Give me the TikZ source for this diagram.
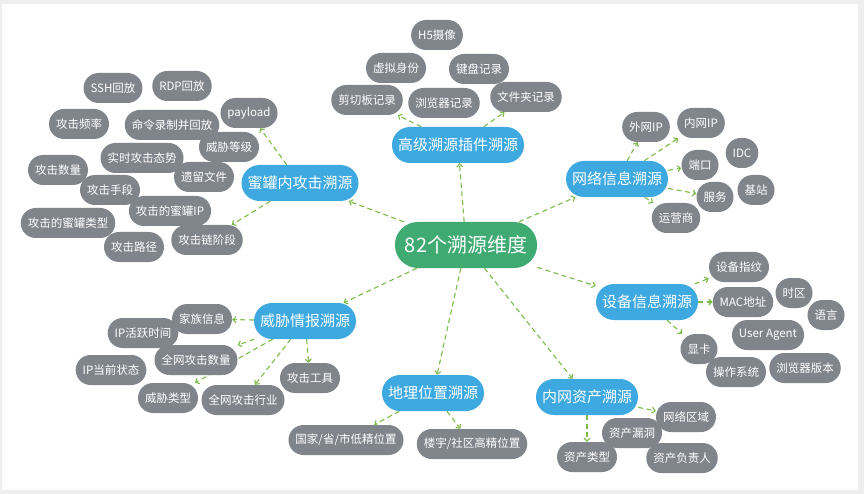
\documentclass[tikz,border=0pt]{standalone}
\usepackage{fontspec}
\newfontfamily\cjk{Noto Sans CJK SC}
\usetikzlibrary{arrows.meta, backgrounds}
\definecolor{leafgray}{HTML}{80858C}
\definecolor{hubblue}{HTML}{3DA9E0}
\definecolor{rootgreen}{HTML}{3FAA72}
\definecolor{linkgreen}{HTML}{7DBB48}
\definecolor{framegray}{HTML}{EEEEEE}

\begin{document}
\begin{tikzpicture}[x=1pt, y=-1pt,
  root/.style={rectangle, rounded corners=23pt, fill=rootgreen, text=white, minimum height=46pt, inner xsep=10pt, font=\cjk\fontsize{20}{24}\selectfont},
  hub/.style={rectangle, rounded corners=18pt, fill=hubblue, text=white, minimum height=36pt, inner xsep=6pt, font=\cjk\fontsize{15}{18}\selectfont},
  leaf/.style={rectangle, rounded corners=15pt, fill=leafgray, text=white, minimum height=30pt, inner xsep=7pt, font=\cjk\fontsize{11.5}{14}\selectfont},
  link/.style={-{Straight Barb[length=3pt,width=6pt]}, dash pattern=on 5pt off 3.5pt, line width=1.1pt, draw=linkgreen}
]
  \useasboundingbox (0,0) rectangle (864,494);

  % centre and branches
  \node[root] (root) at (466,245) {82个溯源维度};
  \node[hub] (honey) at (300,183) {蜜罐内攻击溯源};
  \node[hub] (plugin) at (458,145) {高级溯源插件溯源};
  \node[hub] (net) at (617,179) {网络信息溯源};
  \node[hub] (device) at (647,302) {设备信息溯源};
  \node[hub] (asset) at (587,397) {内网资产溯源};
  \node[hub] (geo) at (433,393) {地理位置溯源};
  \node[hub] (intel) at (305,321) {威胁情报溯源};

  % honeypot
  \node[leaf] (ssh) at (113,88) {SSH回放};
  \node[leaf] (rdp) at (182,86) {RDP回放};
  \node[leaf] (payload) at (249,113) {payload};
  \node[leaf] (freq) at (79,124) {攻击频率};
  \node[leaf] (cmdrec) at (172,125) {命令录制并回放};
  \node[leaf] (threatlv) at (229,147) {威胁等级};
  \node[leaf] (realtime) at (142,158) {实时攻击态势};
  \node[leaf] (atkcount) at (58,170) {攻击数量};
  \node[leaf] (leftfile) at (204,177) {遗留文件};
  \node[leaf] (atkmeans) at (110,190) {攻击手段};
  \node[leaf] (honeyip) at (170,211) {攻击的蜜罐IP};
  \node[leaf] (honeytype) at (68,223) {攻击的蜜罐类型};
  \node[leaf] (killchain) at (207,240) {攻击链阶段};
  \node[leaf] (atkpath) at (134,247) {攻击路径};

  % plugins
  \node[leaf] (h5cam) at (437,35) {H5摄像};
  \node[leaf] (vident) at (396,68) {虚拟身份};
  \node[leaf] (keyrec) at (479,69) {键盘记录};
  \node[leaf] (cliprec) at (367,100) {剪切板记录};
  \node[leaf] (browrec) at (444,103) {浏览器记录};
  \node[leaf] (folderrec) at (526,97) {文件夹记录};

  % network
  \node[leaf] (wanip) at (646,127) {外网IP};
  \node[leaf] (lanip) at (701,123) {内网IP};
  \node[leaf] (idc) at (742,153) {IDC};
  \node[leaf] (port) at (700,165) {端口};
  \node[leaf] (station) at (756,190) {基站};
  \node[leaf] (service) at (715,197) {服务};
  \node[leaf] (isp) at (676,218) {运营商};

  % device
  \node[leaf] (fprint) at (739,267) {设备指纹};
  \node[leaf] (mac) at (743,302) {MAC地址};
  \node[leaf] (tzone) at (794,293) {时区};
  \node[leaf] (lang) at (826,315) {语言};
  \node[leaf] (uagent) at (768,335) {User Agent};
  \node[leaf] (gpu) at (699,349) {显卡};
  \node[leaf] (os) at (736,372) {操作系统};
  \node[leaf] (browver) at (805,368) {浏览器版本};

  % assets
  \node[leaf] (vuln) at (632,433) {资产漏洞};
  \node[leaf] (zone) at (686,417) {网络区域};
  \node[leaf] (atype) at (587,457) {资产类型};
  \node[leaf] (owner) at (682,458) {资产负责人};

  % location
  \node[leaf] (coarse) at (346,440) {国家/省/市低精位置};
  \node[leaf] (fine) at (472,444) {楼宇/社区高精位置};

  % threat intelligence
  \node[leaf] (iptime) at (143,333) {IP活跃时间};
  \node[leaf] (family) at (202,319) {家族信息};
  \node[leaf] (netcount) at (196,360) {全网攻击数量};
  \node[leaf] (ipstate) at (111,370) {IP当前状态};
  \node[leaf] (tool) at (310,378) {攻击工具};
  \node[leaf] (ttype) at (168,398) {威胁类型};
  \node[leaf] (industry) at (243,400) {全网攻击行业};

  \begin{scope}[on background layer]
    \fill[framegray] (0,0) rectangle (864,494);
    \fill[white] (2,4) rectangle (858,490);
    \foreach \hubname in {honey, plugin, net, device, asset, geo, intel}
      \draw[link] (root) -- (\hubname);
    \draw[link] (honey) -- (payload);
    \draw[link] (honey) -- (killchain);
    \draw[link] (plugin) -- (cliprec);
    \draw[link] (plugin) -- (folderrec);
    \foreach \leafname in {wanip, lanip, port, service, isp}
      \draw[link] (net) -- (\leafname);
    \foreach \leafname in {fprint, mac, gpu}
      \draw[link] (device) -- (\leafname);
    \draw[link] (asset) -- (zone);
    \draw[link] (asset) -- (atype);
    \draw[link] (geo) -- (coarse);
    \draw[link] (geo) -- (fine);
    \foreach \leafname in {family, netcount, ttype, industry, tool}
      \draw[link] (intel) -- (\leafname);
  \end{scope}
\end{tikzpicture}
\end{document}
